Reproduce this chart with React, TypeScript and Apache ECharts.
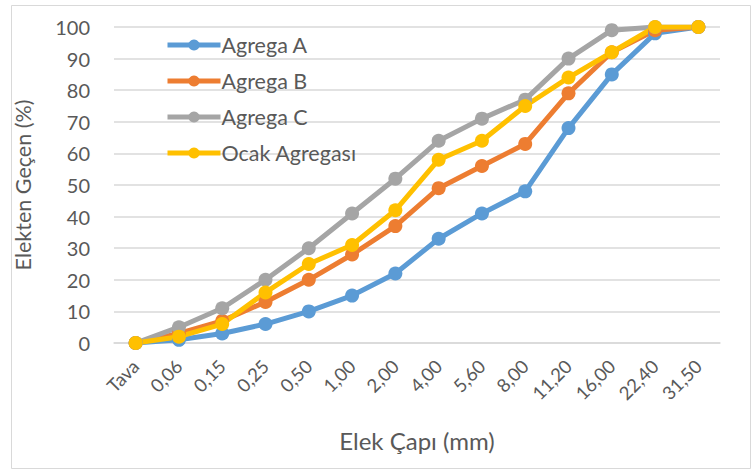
import React, { useEffect, useRef } from "react";
import * as echarts from "echarts";

// Sieve sizes (mm) and cumulative passing percentages
const sieveSizes = ["Tava", "0,06", "0,15", "0,25", "0,50", "1,00", "2,00", "4,00", "5,60", "8,00", "11,20", "16,00", "22,40", "31,50"];
const agregaA = [0, 1, 3, 6, 10, 15, 22, 33, 41, 48, 68, 85, 98, 100];
const agregaB = [0, 3, 7, 13, 20, 28, 37, 49, 56, 63, 79, 92, 99, 100];
const agregaC = [0, 5, 11, 20, 30, 41, 52, 64, 71, 77, 90, 99, 100, 100];
const ocakAgregasi = [0, 2, 6, 16, 25, 31, 42, 58, 64, 75, 84, 92, 100, 100];

const seriesNames = ["Agrega A", "Agrega B", "Agrega C", "Ocak Agregası"];
const seriesColors = ["#5B9BD5", "#ED7D31", "#A5A5A5", "#FFC000"];
const seriesData = [agregaA, agregaB, agregaC, ocakAgregasi];

const FONT = "Lato, 'Open Sans', sans-serif";
const TEXT = "#595959";

export default function App() {
  const ref = useRef<HTMLDivElement>(null);

  useEffect(() => {
    document.body.style.margin = "0";
    if (!ref.current) return;
    const chart = echarts.init(ref.current, undefined, { renderer: "svg" });
    chart.setOption({
      animation: false,
      backgroundColor: "#ffffff",
      textStyle: { fontFamily: FONT },
      grid: { left: 114, right: 31, top: 27, bottom: 127 },
      legend: {
        orient: "vertical",
        left: 160,
        top: 29,
        itemWidth: 53,
        itemHeight: 14,
        itemGap: 14,
        lineStyle: { width: 5 },
        textStyle: { fontFamily: FONT, fontSize: 21.5, color: TEXT, padding: [0, 0, 0, -4] },
        data: seriesNames,
      },
      xAxis: {
        type: "category",
        data: sieveSizes,
        boundaryGap: true,
        name: "Elek Çapı (mm)",
        nameLocation: "middle",
        nameGap: 85,
        nameTextStyle: { fontFamily: FONT, fontSize: 24, color: TEXT },
        axisLine: { show: true, lineStyle: { color: "#d9d9d9", width: 1.5 } },
        axisTick: { show: false },
        axisLabel: { rotate: 45, fontSize: 18.5, color: TEXT, margin: 20, fontFamily: FONT },
      },
      yAxis: {
        type: "value",
        min: 0,
        max: 100,
        interval: 10,
        name: "Elekten Geçen (%)",
        nameLocation: "middle",
        nameGap: 80,
        nameTextStyle: { fontFamily: FONT, fontSize: 21.5, color: TEXT },
        axisLine: { show: false },
        axisTick: { show: false },
        axisLabel: { fontSize: 20, color: TEXT, margin: 24, fontFamily: FONT },
        splitLine: { lineStyle: { color: "#d9d9d9", width: 1.5 } },
      },
      series: seriesNames.map((name, i) => ({
        name,
        type: "line",
        data: seriesData[i],
        color: seriesColors[i],
        symbol: "circle",
        symbolSize: 14,
        lineStyle: { width: 5, color: seriesColors[i] },
        itemStyle: { color: seriesColors[i] },
      })),
      graphic: [
        {
          type: "rect",
          left: 9,
          top: 3,
          shape: { width: 739, height: 463 },
          style: { fill: "none", stroke: "#d9d9d9", lineWidth: 1 },
          silent: true,
        },
      ],
    });
    return () => chart.dispose();
  }, []);

  return <div ref={ref} style={{ width: 751, height: 470 }} />;
}
